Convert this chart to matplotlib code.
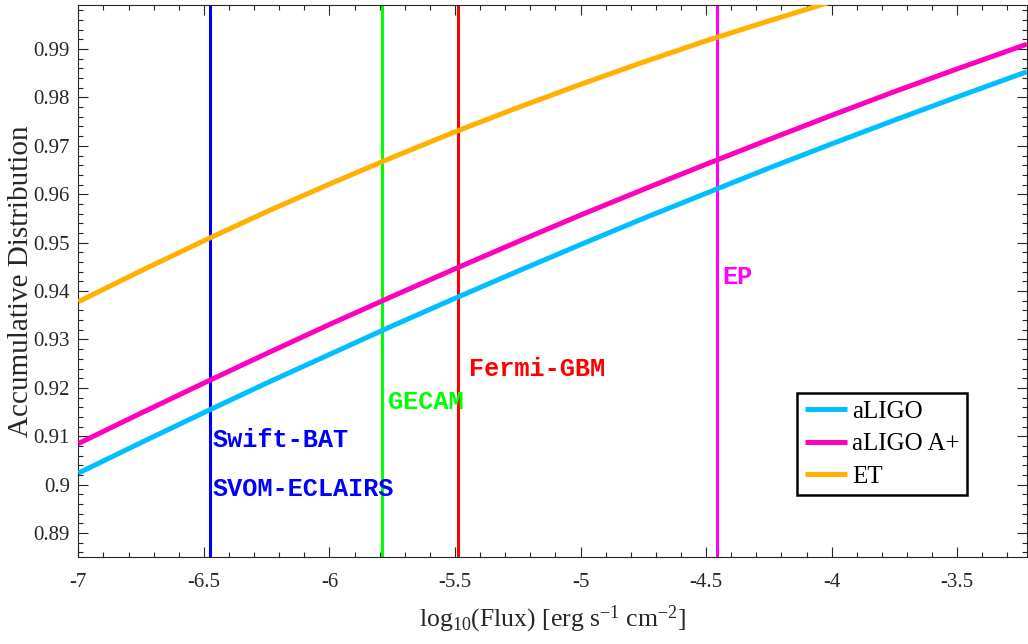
import matplotlib
matplotlib.use("Agg")
import matplotlib.pyplot as plt
from matplotlib.ticker import MultipleLocator

# ---- data ----
x_common = [-7.0, -6.75, -6.5, -6.25, -6.0, -5.75, -5.5, -5.25, -5.0,
            -4.75, -4.5, -4.25, -4.0, -3.75, -3.5, -3.25, -3.222]
aligo = [0.9024, 0.9087, 0.9149, 0.9210, 0.9269, 0.9328, 0.9385, 0.9441, 0.9496,
         0.9550, 0.9602, 0.9654, 0.9704, 0.9753, 0.9801, 0.9848, 0.9853]
aligo_aplus = [0.9085, 0.9148, 0.9210, 0.9271, 0.9331, 0.9389, 0.9446, 0.9502, 0.9557,
               0.9610, 0.9662, 0.9713, 0.9763, 0.9812, 0.9859, 0.9905, 0.9910]
x_et = [-7.0, -6.75, -6.5, -6.25, -6.0, -5.75, -5.5, -5.25, -5.0,
        -4.75, -4.5, -4.25, -4.0]
et = [0.9378, 0.9442, 0.9504, 0.9564, 0.9621, 0.9676, 0.9729, 0.9779, 0.9827,
      0.9873, 0.9917, 0.9958, 0.9998]

series_names = ["aLIGO", "aLIGO A+", "ET"]
series_colors = ["#00BFFF", "#FF00BF", "#FFB000"]

instr_names = ["Swift-BAT", "GECAM", "Fermi-GBM", "EP"]
instr_flux = [-6.476, -5.789, -5.489, -4.458]
instr_colors = ["#0000FF", "#00FF00", "#FF0000", "#FF00FF"]

label_texts = ["Swift-BAT", "SVOM-ECLAIRS", "GECAM", "Fermi-GBM", "EP"]
label_x = [-6.464, -6.464, -5.765, -5.443, -4.437]
label_y = [0.9077, 0.8976, 0.9156, 0.9225, 0.9414]
label_colors = ["#0000FF", "#0000FF", "#00FF00", "#FF0000", "#FF00FF"]

xticks = [-7, -6.5, -6, -5.5, -5, -4.5, -4, -3.5]
xtick_labels = ["-7", "-6.5", "-6", "-5.5", "-5", "-4.5", "-4", "-3.5"]
yticks = [0.89, 0.90, 0.91, 0.92, 0.93, 0.94, 0.95, 0.96, 0.97, 0.98, 0.99]
ytick_labels = ["0.89", "0.9", "0.91", "0.92", "0.93", "0.94", "0.95", "0.96", "0.97", "0.98", "0.99"]

# ---- styling ----
plt.rcParams['font.family'] = ['Liberation Serif', 'DejaVu Serif']
plt.rcParams['mathtext.fontset'] = 'custom'
plt.rcParams['mathtext.rm'] = 'Liberation Serif'
plt.rcParams['mathtext.it'] = 'Liberation Serif:italic'

fig = plt.figure(figsize=(10.28, 6.44), dpi=100)
ax = fig.add_axes([0.0762, 0.1346, 0.9228, 0.8569])

axis_color = "#262626"

for xv, c in zip(instr_flux, instr_colors):
    ax.axvline(xv, color=c, lw=2.2, zorder=2)

lines = []
for xs, ys, name, c in zip([x_common, x_common, x_et],
                           [aligo, aligo_aplus, et],
                           series_names, series_colors):
    ln, = ax.plot(xs, ys, color=c, lw=3.6, label=name, zorder=3,
                  solid_capstyle='butt', solid_joinstyle='round')
    lines.append(ln)

for t, xv, yv, c in zip(label_texts, label_x, label_y, label_colors):
    ax.text(xv, yv, t, color=c, fontsize=18.2, fontweight='bold',
            family=['Liberation Mono', 'DejaVu Sans Mono'],
            ha='left', va='baseline', zorder=4)

ax.set_xlim(-7, -3.222)
ax.set_ylim(0.885, 0.999)
ax.set_xticks(xticks)
ax.set_xticklabels(xtick_labels)
ax.set_yticks(yticks)
ax.set_yticklabels(ytick_labels)
ax.xaxis.set_minor_locator(MultipleLocator(0.1))
ax.yaxis.set_minor_locator(MultipleLocator(0.002))

ax.tick_params(which='both', direction='in', top=True, right=True,
               color=axis_color, labelcolor=axis_color, labelsize=15)
ax.tick_params(which='major', length=7, width=0.8)
ax.tick_params(which='minor', length=3.6, width=0.8)
ax.tick_params(axis='x', which='major', pad=11)
ax.tick_params(axis='y', which='major', pad=6)
for s in ax.spines.values():
    s.set_color(axis_color)
    s.set_linewidth(0.8)

ax.set_xlabel(r'log$_{10}$(Flux) [erg s$^{-1}$ cm$^{-2}$]', fontsize=18.5,
              color=axis_color, labelpad=9)
ax.set_ylabel('Accumulative Distribution', fontsize=21, color=axis_color)
ax.yaxis.set_label_coords(-0.047, 0.5)

leg = ax.legend(handles=lines, loc='upper left', bbox_to_anchor=(0.7576, 0.2978),
                fontsize=18, frameon=True, fancybox=False, handlelength=1.7,
                handletextpad=0.2, borderpad=0.3, labelspacing=0.4,
                borderaxespad=0)
leg.get_frame().set_edgecolor('black')
leg.get_frame().set_linewidth(1.8)
leg.get_frame().set_alpha(1)

fig.savefig("out.png", dpi=100)
